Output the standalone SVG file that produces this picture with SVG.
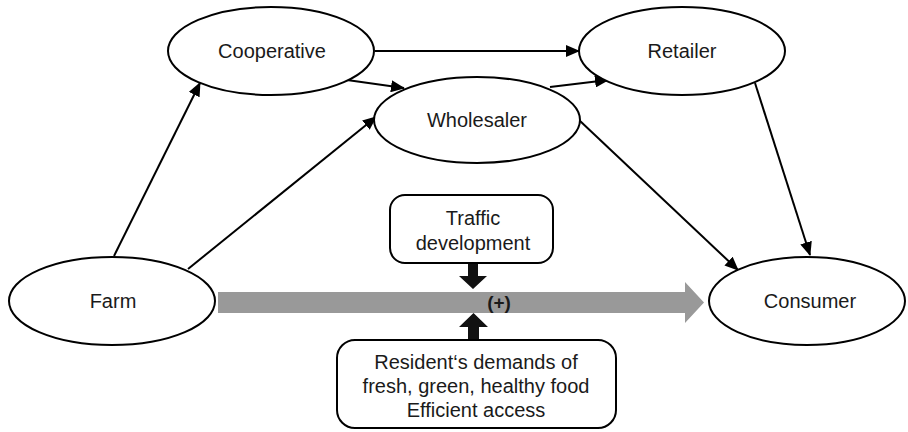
<svg xmlns="http://www.w3.org/2000/svg" width="908" height="432" viewBox="0 0 908 432">
<style>
.node{fill:#fff;stroke:#000;stroke-width:2}
.lbl{font-family:"Liberation Sans",Arial,sans-serif;font-size:20px;fill:#1a1a1a;text-anchor:middle}
.conn{stroke:#000;stroke-width:2;fill:none;marker-end:url(#ah)}
</style>
<defs>
<marker id="ah" markerUnits="userSpaceOnUse" markerWidth="14" markerHeight="12" refX="13" refY="6" orient="auto">
<path d="M0,0 L14,6 L0,12 z" fill="#000"/>
</marker>
</defs>
<rect width="908" height="432" fill="#fff"/>
<g id="connectors">
<line class="conn" x1="114" y1="256" x2="200" y2="83"/>
<line class="conn" x1="188" y1="269" x2="376" y2="117"/>
<line class="conn" x1="375" y1="51" x2="579" y2="51"/>
<line class="conn" x1="347" y1="80" x2="404" y2="88"/>
<line class="conn" x1="550" y1="87" x2="608" y2="80"/>
<line class="conn" x1="579" y1="120" x2="738" y2="270"/>
<line class="conn" x1="755" y1="83" x2="810" y2="255"/>
<polygon id="main-arrow" points="218,292 685,292 685,282 704,302.5 685,323 685,313 218,313" fill="#999"/>
<polygon id="down-arrow" points="468,263 478,263 478,276 487,276 473,289 459,276 468,276" fill="#111"/>
<polygon id="up-arrow" points="468,341 479,341 479,327 488,327 473.5,313 459,327 468,327" fill="#111"/>
<text x="499" y="309" font-family="Liberation Sans,Arial,sans-serif" font-size="19" font-weight="bold" text-anchor="middle" fill="#1a1a1a">(+)</text>
</g>
<g id="cooperative">
<ellipse class="node" cx="271" cy="51" rx="103" ry="44"/>
<text class="lbl" x="272" y="58">Cooperative</text>
</g>
<g id="retailer">
<ellipse class="node" cx="682" cy="51" rx="103" ry="44"/>
<text class="lbl" x="682" y="58">Retailer</text>
</g>
<g id="wholesaler">
<ellipse class="node" cx="477" cy="120" rx="103" ry="43"/>
<text class="lbl" x="477" y="127">Wholesaler</text>
</g>
<g id="farm">
<ellipse class="node" cx="112" cy="301" rx="103" ry="44"/>
<text class="lbl" x="113" y="308">Farm</text>
</g>
<g id="consumer">
<ellipse class="node" cx="807" cy="301" rx="98" ry="44"/>
<text class="lbl" x="810" y="308">Consumer</text>
</g>
<g id="traffic">
<rect class="node" x="390" y="195" width="163" height="68" rx="15"/>
<text class="lbl" x="473" y="225">Traffic</text>
<text class="lbl" x="473" y="250">development</text>
</g>
<g id="resident">
<rect class="node" x="337" y="340" width="279" height="88" rx="18"/>
<text class="lbl" x="476" y="369">Resident‘s demands of</text>
<text class="lbl" x="476" y="393">fresh, green, healthy food</text>
<text class="lbl" x="476" y="417">Efficient access</text>
</g>
</svg>
